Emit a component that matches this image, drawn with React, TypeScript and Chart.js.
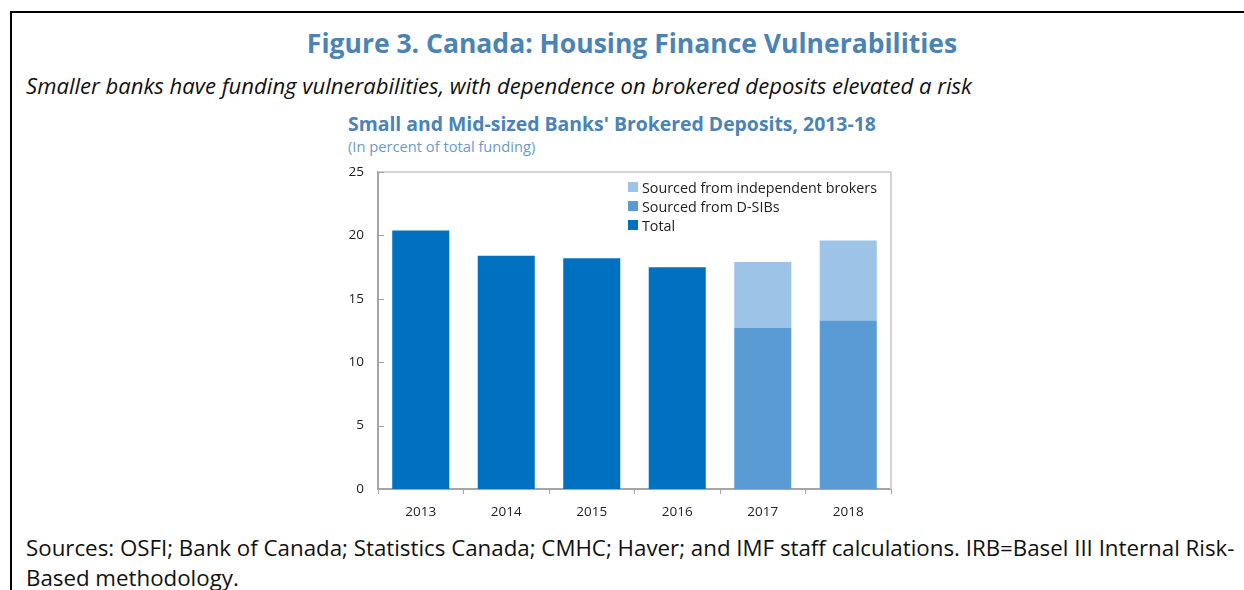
import React, { useEffect, useRef } from "react";
import { Chart, registerables } from "chart.js";

Chart.register(...registerables);

const years = ["2013", "2014", "2015", "2016", "2017", "2018"];
const totalValues = [20.4, 18.4, 18.2, 17.5, null, null];
const dsibValues = [null, null, null, null, 12.7, 13.3];
const independentValues = [null, null, null, null, 5.2, 6.3];
const yTicks = [0, 5, 10, 15, 20, 25];

const legendItems = [
  { label: "Sourced from independent brokers", color: "#9DC3E6" },
  { label: "Sourced from D-SIBs", color: "#5B9BD5" },
  { label: "Total", color: "#0070C0" },
];

const FONT = "'Open Sans', 'Noto Sans', sans-serif";

const boxPlugin = {
  id: "boxPlugin",
  beforeDatasetsDraw(chart: any) {
    const { ctx, chartArea } = chart;
    ctx.save();
    ctx.strokeStyle = "#D4D4D4";
    ctx.lineWidth = 2;
    ctx.beginPath();
    ctx.moveTo(chartArea.left, chartArea.top);
    ctx.lineTo(chartArea.right, chartArea.top);
    ctx.lineTo(chartArea.right, chartArea.bottom);
    ctx.stroke();
    const y = chart.scales.y;
    ctx.strokeStyle = "#A6A6A6";
    ctx.lineWidth = 1;
    yTicks.forEach((v) => {
      const py = Math.round(y.getPixelForValue(v)) + 0.5;
      ctx.beginPath();
      ctx.moveTo(chartArea.left, py);
      ctx.lineTo(chartArea.left + 6, py);
      ctx.stroke();
    });
    ctx.restore();
  },
};

function BarChart() {
  const ref = useRef<HTMLCanvasElement | null>(null);
  useEffect(() => {
    if (!ref.current) return;
    const chart = new Chart(ref.current, {
      type: "bar",
      data: {
        labels: years,
        datasets: [
          { label: "Total", data: totalValues, backgroundColor: "#0070C0", stack: "s" },
          { label: "Sourced from D-SIBs", data: dsibValues, backgroundColor: "#5B9BD5", stack: "s" },
          { label: "Sourced from independent brokers", data: independentValues, backgroundColor: "#9DC3E6", stack: "s" },
        ],
      },
      options: {
        responsive: false,
        animation: false,
        devicePixelRatio: 1,
        layout: { padding: { top: 20, right: 19, left: 0, bottom: 0 } },
        datasets: { bar: { barPercentage: 0.667, categoryPercentage: 1 } },
        plugins: { legend: { display: false }, tooltip: { enabled: false }, title: { display: false } },
        scales: {
          x: {
            stacked: true,
            afterFit: (s: any) => { s.height = 36; },
            grid: { offset: true, drawOnChartArea: false, drawTicks: true, tickLength: 5, color: "#A6A6A6" },
            border: { color: "#A6A6A6", width: 2 },
            ticks: { color: "#222", font: { family: FONT, size: 13.5 }, padding: 10 },
          },
          y: {
            stacked: true,
            min: 0,
            max: 25,
            afterFit: (s: any) => { s.width = 48; },
            grid: { display: false, drawTicks: false },
            border: { color: "#A6A6A6", width: 2 },
            ticks: { stepSize: 5, color: "#222", font: { family: FONT, size: 13.5 }, padding: 14 },
          },
        },
      },
      plugins: [boxPlugin],
    });
    return () => chart.destroy();
  }, []);
  return (
    <canvas
      ref={ref}
      width={580}
      height={375}
      style={{ position: "absolute", left: 330, top: 150, width: 580, height: 375 }}
    />
  );
}

export default function App() {
  return (
    <div style={{ position: "absolute", left: 0, top: 0, width: 1244, height: 590, background: "#fff", fontFamily: FONT, overflow: "hidden" }}>
      <div style={{ position: "absolute", left: 10, top: 11, width: 1234, height: 2, background: "#000" }} />
      <div style={{ position: "absolute", left: 10, top: 11, width: 2, height: 579, background: "#000" }} />
      <div style={{ position: "absolute", left: 0, width: 1264, top: 25, textAlign: "center", fontSize: 26.5, fontWeight: 700, color: "#4A83B6", whiteSpace: "nowrap" }}>
        Figure 3. Canada: Housing Finance Vulnerabilities
      </div>
      <div style={{ position: "absolute", left: 26, top: 70, fontSize: 22.1, fontStyle: "italic", color: "#111", whiteSpace: "nowrap" }}>
        Smaller banks have funding vulnerabilities, with dependence on brokered deposits elevated a risk
      </div>
      <div style={{ position: "absolute", left: 348, top: 110, fontSize: 19.4, fontWeight: 700, color: "#4A83B6", whiteSpace: "nowrap" }}>
        Small and Mid-sized Banks' Brokered Deposits, 2013-18
      </div>
      <div style={{ position: "absolute", left: 348, top: 136, fontSize: 14.7, color: "#6B9BC9", whiteSpace: "nowrap" }}>
        (In percent of total funding)
      </div>
      <BarChart />
      {legendItems.map((it, i) => (
        <div key={it.label} style={{ position: "absolute", left: 628, top: 178 + i * 19, height: 18, display: "flex", alignItems: "center", whiteSpace: "nowrap" }}>
          <div style={{ width: 10, height: 10, background: it.color, marginRight: 4 }} />
          <span style={{ fontSize: 14.3, color: "#222" }}>{it.label}</span>
        </div>
      ))}
      <div style={{ position: "absolute", left: 26, top: 533, fontSize: 22.3, lineHeight: "30px", color: "#111", whiteSpace: "nowrap" }}>
        Sources: OSFI; Bank of Canada; Statistics Canada; CMHC; Haver; and IMF staff calculations. IRB=Basel III Internal Risk-
        <br />
        Based methodology.
      </div>
    </div>
  );
}
